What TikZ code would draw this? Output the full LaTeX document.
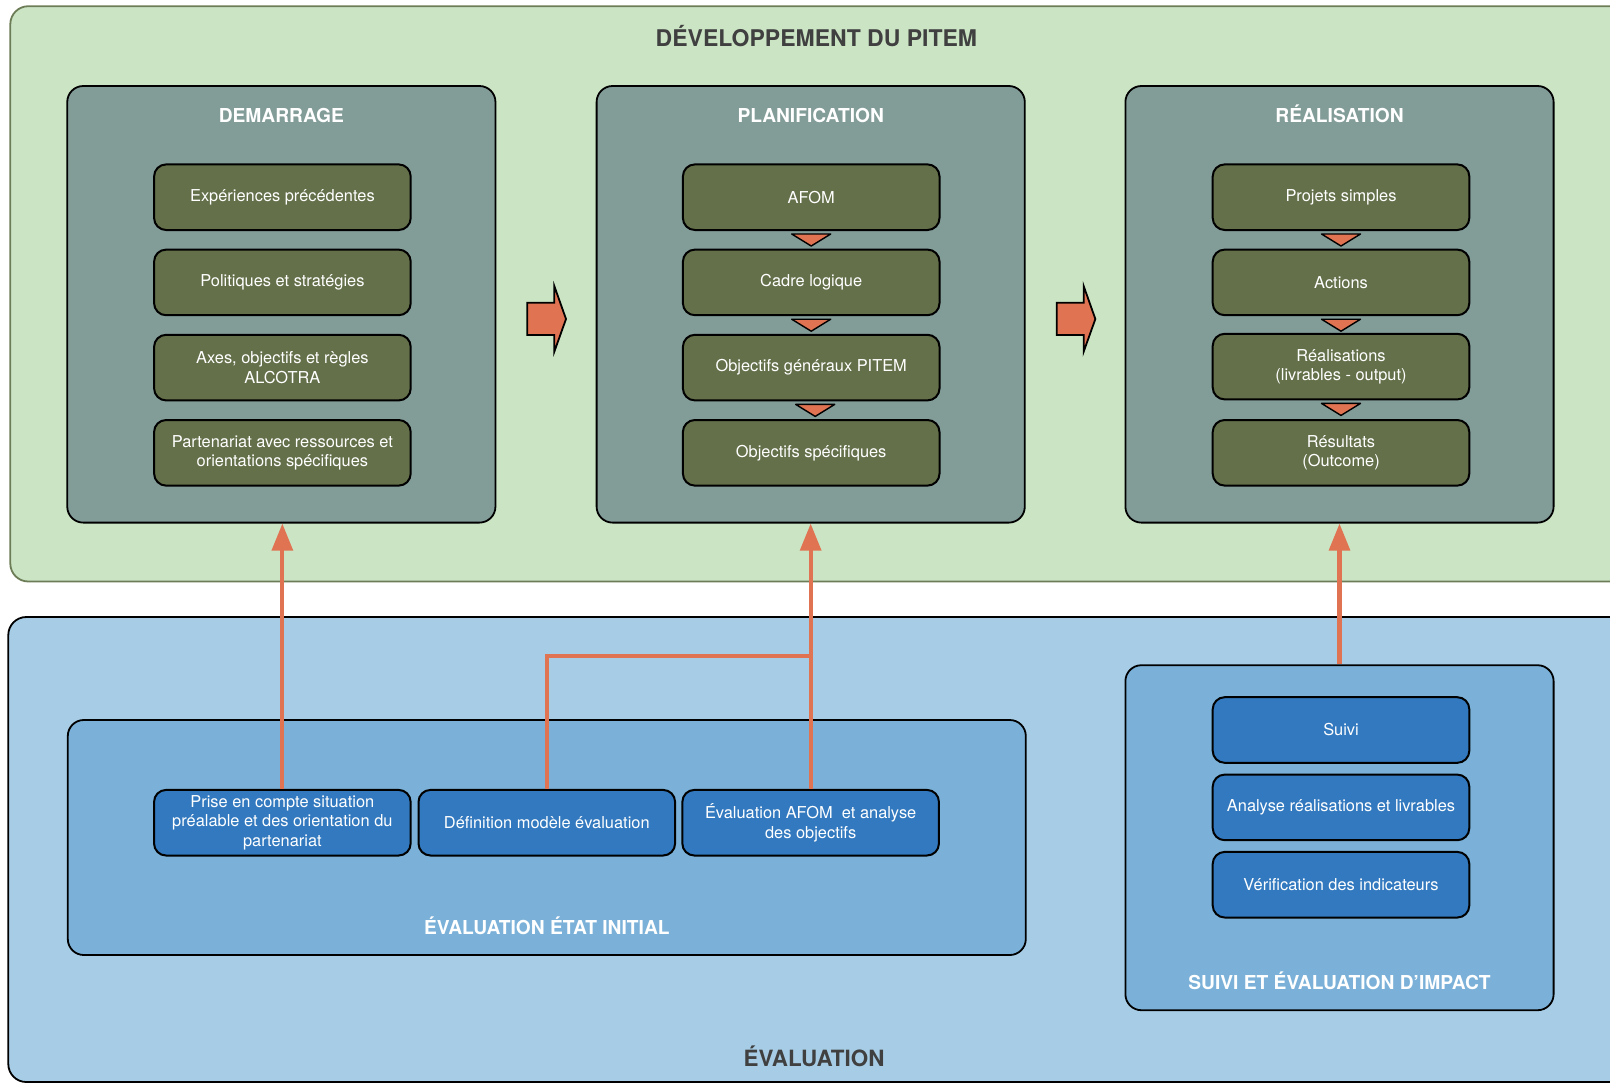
\documentclass[tikz,border=0pt]{standalone}
\usepackage{fontspec}
\setmainfont{TeX Gyre Heros}
\usepackage{tikz}
\usetikzlibrary{arrows.meta}
\usepackage{xcolor}
\definecolor{greenbg}{RGB}{203,229,196}
\definecolor{greenline}{RGB}{108,124,86}
\definecolor{phasegray}{RGB}{130,156,152}
\definecolor{olive}{RGB}{100,112,74}
\definecolor{bluebg}{RGB}{167,205,230}
\definecolor{bluemid}{RGB}{123,177,216}
\definecolor{bluedark}{RGB}{50,121,191}
\definecolor{orangec}{RGB}{224,116,82}
\definecolor{titlegray}{RGB}{64,64,64}

\begin{document}
\begin{tikzpicture}[x=0.5pt,y=-0.5pt,
  phase/.style={draw=black,line width=0.9pt,rounded corners=8pt,minimum width=214.1pt,minimum height=218.3pt},
  item/.style={draw=black,fill=olive,line width=1pt,rounded corners=6pt,text=white,align=center,
    minimum width=128.3pt,minimum height=32.8pt,inner sep=1pt,font=\fontsize{8.2}{9.8}\selectfont},
  evalitem/.style={item,fill=bluedark},
  head/.style={text=white,text height=7pt,text depth=0pt,font=\bfseries\fontsize{9.6}{11}\selectfont},
  bigtitle/.style={text=titlegray,text height=8.1pt,text depth=0pt,font=\bfseries\fontsize{11.2}{13}\selectfont},
  link/.style={draw=orangec,line width=2.1pt},
  uplink/.style={link,-{Triangle[length=13.5pt,width=10.3pt]}},
  tri/.style={draw=black,fill=orangec,line width=0.7pt,line join=round},
  blockarrow/.style={draw=black,fill=orangec,line width=0.9pt}]
\useasboundingbox (0,0) rectangle (1610,1083);
\clip (0,0) rectangle (1610,1083);

% containers
\draw[fill=greenbg,draw=greenline,line width=0.9pt,rounded corners=9pt] (10.3,6.2) rectangle (1680,581.5);
\draw[fill=bluebg,draw=black,line width=0.9pt,rounded corners=9pt] (8.3,617) rectangle (1680,1082);

\node[bigtitle,font=\bfseries\fontsize{11.5}{13}\selectfont] (devT) at (816.4,38) {DÉVELOPPEMENT DU PITEM};
\node[bigtitle] (evalT) at (814,1058.6) {ÉVALUATION};

% phases
\node[phase,fill=phasegray] (dem) at (281.35,304.3) {};
\node[phase,fill=phasegray] (plan) at (810.7,304.3) {};
\node[phase,fill=phasegray] (real) at (1339.5,304.3) {};
\node[head] (demT) at (281.35,115) {DEMARRAGE};
\node[head] (planT) at (810.7,115) {PLANIFICATION};
\node[head] (realT) at (1339.5,115) {RÉALISATION};

\node[item] (dA) at (282.4,197.2) {Expériences précédentes};
\node[item] (dB) at (282.4,282.4) {Politiques et stratégies};
\node[item] (dC) at (282.4,367.6) {Axes, objectifs et règles\\ALCOTRA};
\node[item] (dD) at (282.4,452.8) {Partenariat avec ressources et\\orientations spécifiques};

\node[item] (pA) at (811.2,197.2) {AFOM};
\node[item] (pB) at (811.2,282.4) {Cadre logique};
\node[item] (pC) at (811.2,367.6) {Objectifs généraux PITEM};
\node[item] (pD) at (811.2,452.8) {Objectifs spécifiques};

\node[item] (rA) at (1341,197.2) {Projets simples};
\node[item] (rB) at (1341,282.4) {Actions};
\node[item] (rC) at (1341,366.6) {Réalisations\\(livrables - output)};
\node[item] (rD) at (1341,452.8) {Résultats\\(Outcome)};

\foreach \n in {pA,pB,rA,rB,rC}
  \draw[tri] ([shift={(-19.5,3)}]\n.south) -- ++(39,0) -- ++(-19.5,12) -- cycle;
\draw[tri] ([shift={(-15.5,3)}]pC.south) -- ++(39,0) -- ++(-19.5,12) -- cycle;

\draw[blockarrow] (527.3,302.7) -- (554.3,302.7) -- (554.3,286) -- (566,319) -- (554.3,351.7) -- (554.3,335) -- (527.3,335) -- cycle;
\draw[blockarrow,shift={(529.35,0)}] (527.3,302.7) -- (554.3,302.7) -- (554.3,286) -- (566,319) -- (554.3,351.7) -- (554.3,335) -- (527.3,335) -- cycle;

% evaluation
\node[phase,fill=bluemid,minimum width=479pt,minimum height=117.5pt] (init) at (546.8,837.5) {};
\node[phase,fill=bluemid,minimum height=172.5pt] (suivi) at (1339.5,837.7) {};
\node[head] (initT) at (546.8,927) {ÉVALUATION ÉTAT INITIAL};
\node[head] (suiviT) at (1339.5,982) {SUIVI ET ÉVALUATION D’IMPACT};

\node[evalitem] (eA) at (282.35,822.7) {Prise en compte situation\\préalable et des orientation du\\partenariat};
\node[evalitem] (eB) at (546.8,822.7) {Définition modèle évaluation};
\node[evalitem] (eC) at (810.65,822.7) {Évaluation AFOM~ et analyse\\des objectifs};

\node[evalitem] (sA) at (1341,730) {Suivi};
\node[evalitem] (sB) at (1341,807.4) {Analyse réalisations et livrables};
\node[evalitem] (sC) at (1341,884.7) {Vérification des indicateurs};

% connectors
\coordinate (joint) at (810.65,656);
\draw[uplink] (eA.north) -- (eA.north |- dem.south);
\draw[link] (eB.north) |- (joint);
\draw[uplink] (eC.north) -- (eC.north |- plan.south);
\draw[uplink] (suivi.north) -- (suivi.north |- real.south);

\end{tikzpicture}
\end{document}
